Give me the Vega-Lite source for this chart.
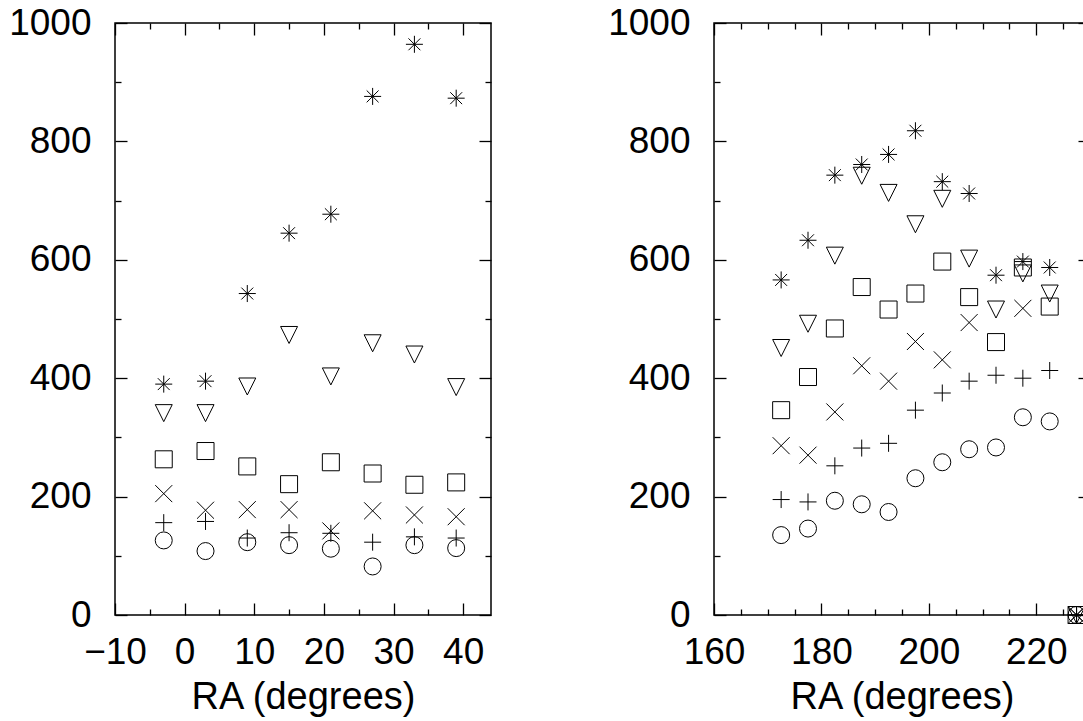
{
  "$schema": "https://vega.github.io/schema/vega-lite/v6.json",
  "padding": {"left": 7, "top": 3, "right": 0, "bottom": 0},
  "background": "white",
  "config": {
    "view": {"stroke": "black", "strokeWidth": 1.5},
    "axis": {
      "labelFont": "Liberation Sans", "labelFontSize": 37, "labelColor": "black",
      "titleFont": "Liberation Sans", "titleFontSize": 38, "titleFontWeight": "normal", "titleColor": "black",
      "domain": false, "grid": false, "tickColor": "black", "tickWidth": 1.3,
      "labelOverlap": false, "labelBound": false, "labelFlush": false, "format": "d"
    }
  },
  "datasets": {
    "left": [
      {"s": "star", "ra": -3, "n": 390}, {"s": "star", "ra": 3, "n": 395}, {"s": "star", "ra": 9, "n": 543}, {"s": "star", "ra": 15, "n": 645},
      {"s": "star", "ra": 21, "n": 677}, {"s": "star", "ra": 27, "n": 876}, {"s": "star", "ra": 33, "n": 964}, {"s": "star", "ra": 39, "n": 873},
      {"s": "tri", "ra": -3, "n": 341}, {"s": "tri", "ra": 3, "n": 341}, {"s": "tri", "ra": 9, "n": 386}, {"s": "tri", "ra": 15, "n": 473},
      {"s": "tri", "ra": 21, "n": 403}, {"s": "tri", "ra": 27, "n": 459}, {"s": "tri", "ra": 33, "n": 440}, {"s": "tri", "ra": 39, "n": 385},
      {"s": "square", "ra": -3, "n": 263}, {"s": "square", "ra": 3, "n": 277}, {"s": "square", "ra": 9, "n": 251}, {"s": "square", "ra": 15, "n": 221},
      {"s": "square", "ra": 21, "n": 258}, {"s": "square", "ra": 27, "n": 239}, {"s": "square", "ra": 33, "n": 220}, {"s": "square", "ra": 39, "n": 224},
      {"s": "cross", "ra": -3, "n": 205}, {"s": "cross", "ra": 3, "n": 177}, {"s": "cross", "ra": 9, "n": 178}, {"s": "cross", "ra": 15, "n": 178},
      {"s": "cross", "ra": 21, "n": 142}, {"s": "cross", "ra": 27, "n": 176}, {"s": "cross", "ra": 33, "n": 169}, {"s": "cross", "ra": 39, "n": 166},
      {"s": "plus", "ra": -3, "n": 156}, {"s": "plus", "ra": 3, "n": 158}, {"s": "plus", "ra": 9, "n": 130}, {"s": "plus", "ra": 15, "n": 139},
      {"s": "plus", "ra": 21, "n": 138}, {"s": "plus", "ra": 27, "n": 123}, {"s": "plus", "ra": 33, "n": 132}, {"s": "plus", "ra": 39, "n": 130},
      {"s": "circle", "ra": -3, "n": 126}, {"s": "circle", "ra": 3, "n": 108}, {"s": "circle", "ra": 9, "n": 123}, {"s": "circle", "ra": 15, "n": 118},
      {"s": "circle", "ra": 21, "n": 112}, {"s": "circle", "ra": 27, "n": 82}, {"s": "circle", "ra": 33, "n": 118}, {"s": "circle", "ra": 39, "n": 113}
    ],
    "right": [
      {"s": "star", "ra": 172.5, "n": 566}, {"s": "star", "ra": 177.5, "n": 633}, {"s": "star", "ra": 182.5, "n": 743}, {"s": "star", "ra": 187.5, "n": 761},
      {"s": "star", "ra": 192.5, "n": 778}, {"s": "star", "ra": 197.5, "n": 818}, {"s": "star", "ra": 202.5, "n": 732}, {"s": "star", "ra": 207.5, "n": 712},
      {"s": "star", "ra": 212.5, "n": 574}, {"s": "star", "ra": 217.5, "n": 597}, {"s": "star", "ra": 222.5, "n": 587}, {"s": "star", "ra": 227.5, "n": 0},
      {"s": "tri", "ra": 172.5, "n": 451}, {"s": "tri", "ra": 177.5, "n": 492}, {"s": "tri", "ra": 182.5, "n": 607}, {"s": "tri", "ra": 187.5, "n": 742},
      {"s": "tri", "ra": 192.5, "n": 713}, {"s": "tri", "ra": 197.5, "n": 660}, {"s": "tri", "ra": 202.5, "n": 703}, {"s": "tri", "ra": 207.5, "n": 602},
      {"s": "tri", "ra": 212.5, "n": 516}, {"s": "tri", "ra": 217.5, "n": 577}, {"s": "tri", "ra": 222.5, "n": 543}, {"s": "tri", "ra": 227.5, "n": 0},
      {"s": "square", "ra": 172.5, "n": 346}, {"s": "square", "ra": 177.5, "n": 402}, {"s": "square", "ra": 182.5, "n": 484}, {"s": "square", "ra": 187.5, "n": 554},
      {"s": "square", "ra": 192.5, "n": 516}, {"s": "square", "ra": 197.5, "n": 543}, {"s": "square", "ra": 202.5, "n": 597}, {"s": "square", "ra": 207.5, "n": 537},
      {"s": "square", "ra": 212.5, "n": 461}, {"s": "square", "ra": 217.5, "n": 587}, {"s": "square", "ra": 222.5, "n": 521}, {"s": "square", "ra": 227.5, "n": 0},
      {"s": "cross", "ra": 172.5, "n": 286}, {"s": "cross", "ra": 177.5, "n": 270}, {"s": "cross", "ra": 182.5, "n": 343}, {"s": "cross", "ra": 187.5, "n": 421},
      {"s": "cross", "ra": 192.5, "n": 395}, {"s": "cross", "ra": 197.5, "n": 462}, {"s": "cross", "ra": 202.5, "n": 431}, {"s": "cross", "ra": 207.5, "n": 494},
      {"s": "cross", "ra": 217.5, "n": 518}, {"s": "cross", "ra": 227.5, "n": 0},
      {"s": "plus", "ra": 172.5, "n": 195}, {"s": "plus", "ra": 177.5, "n": 191}, {"s": "plus", "ra": 182.5, "n": 252}, {"s": "plus", "ra": 187.5, "n": 282},
      {"s": "plus", "ra": 192.5, "n": 290}, {"s": "plus", "ra": 197.5, "n": 346}, {"s": "plus", "ra": 202.5, "n": 375}, {"s": "plus", "ra": 207.5, "n": 395},
      {"s": "plus", "ra": 212.5, "n": 405}, {"s": "plus", "ra": 217.5, "n": 400}, {"s": "plus", "ra": 222.5, "n": 413}, {"s": "plus", "ra": 227.5, "n": 0},
      {"s": "circle", "ra": 172.5, "n": 135}, {"s": "circle", "ra": 177.5, "n": 146}, {"s": "circle", "ra": 182.5, "n": 193}, {"s": "circle", "ra": 187.5, "n": 187},
      {"s": "circle", "ra": 192.5, "n": 174}, {"s": "circle", "ra": 197.5, "n": 231}, {"s": "circle", "ra": 202.5, "n": 258}, {"s": "circle", "ra": 207.5, "n": 280},
      {"s": "circle", "ra": 212.5, "n": 283}, {"s": "circle", "ra": 217.5, "n": 334}, {"s": "circle", "ra": 222.5, "n": 327}, {"s": "circle", "ra": 227.5, "n": 0}
    ]
  },
  "spacing": 113,
  "hconcat": [
    {
      "width": 376, "height": 592,
      "data": {"name": "left"},
      "layer": [
        {
          "mark": {"type": "point", "filled": false, "stroke": "black", "strokeWidth": 1, "opacity": 1},
          "encoding": {
            "x": {"field": "ra", "type": "quantitative", "scale": {"domain": [-10, 44], "nice": false, "zero": false},
                  "axis": {"orient": "bottom", "title": "RA (degrees)", "values": [-10, -5, 0, 5, 10, 15, 20, 25, 30, 35, 40],
                           "labelExpr": "datum.value % 10 === 0 ? datum.label : ''",
                           "tickSize": {"expr": "datum.value % 10 === 0 ? -12 : -6"}, "labelPadding": 31, "titlePadding": 2}},
            "y": {"field": "n", "type": "quantitative", "scale": {"domain": [0, 1000], "nice": false},
                  "axis": {"orient": "left", "title": null, "values": [0, 100, 200, 300, 400, 500, 600, 700, 800, 900, 1000],
                           "labelExpr": "datum.value % 200 === 0 ? datum.label : ''",
                           "tickSize": {"expr": "datum.value % 200 === 0 ? -12 : -6"}, "labelPadding": 36}},
            "shape": {"field": "s", "type": "nominal", "legend": null,
                      "scale": {"domain": ["circle", "plus", "cross", "square", "tri", "star"],
                                "range": ["circle", "M-1,0L1,0M0,-1L0,1", "M-1,-1L1,1M-1,1L1,-1", "square", "M-1,-1L1,-1L0,1Z", "M-1,0L1,0M0,-1L0,1M-0.7,-0.7L0.7,0.7M-0.7,0.7L0.7,-0.7"]}},
            "size": {"field": "s", "type": "nominal", "legend": null,
                     "scale": {"domain": ["circle", "plus", "cross", "square", "tri", "star"], "range": [289, 289, 169, 225, 289, 324]}}
          }
        },
        {
          "mark": {"type": "point", "opacity": 0},
          "encoding": {
            "x": {"field": "ra", "type": "quantitative",
                  "axis": {"orient": "top", "title": null, "labels": false, "values": [-10, -5, 0, 5, 10, 15, 20, 25, 30, 35, 40],
                           "tickSize": {"expr": "datum.value % 10 === 0 ? -12 : -6"}}},
            "y": {"field": "n", "type": "quantitative",
                  "axis": {"orient": "right", "title": null, "labels": false, "values": [0, 100, 200, 300, 400, 500, 600, 700, 800, 900, 1000],
                           "tickSize": {"expr": "datum.value % 200 === 0 ? -12 : -6"}}}
          }
        }
      ],
      "resolve": {"axis": {"x": "independent", "y": "independent"}}
    },
    {
      "width": 376, "height": 592,
      "data": {"name": "right"},
      "layer": [
        {
          "mark": {"type": "point", "filled": false, "stroke": "black", "strokeWidth": 1, "opacity": 1},
          "encoding": {
            "x": {"field": "ra", "type": "quantitative", "scale": {"domain": [160, 230], "nice": false, "zero": false},
                  "axis": {"orient": "bottom", "title": "RA (degrees)", "values": [160, 165, 170, 175, 180, 185, 190, 195, 200, 205, 210, 215, 220, 225, 230],
                           "labelExpr": "datum.value % 20 === 0 ? datum.label : ''",
                           "tickSize": {"expr": "datum.value % 20 === 0 ? -12 : -6"}, "labelPadding": 31, "titlePadding": 2}},
            "y": {"field": "n", "type": "quantitative", "scale": {"domain": [0, 1000], "nice": false},
                  "axis": {"orient": "left", "title": null, "values": [0, 100, 200, 300, 400, 500, 600, 700, 800, 900, 1000],
                           "labelExpr": "datum.value % 200 === 0 ? datum.label : ''",
                           "tickSize": {"expr": "datum.value % 200 === 0 ? -12 : -6"}, "labelPadding": 36}},
            "shape": {"field": "s", "type": "nominal", "legend": null,
                      "scale": {"domain": ["circle", "plus", "cross", "square", "tri", "star"],
                                "range": ["circle", "M-1,0L1,0M0,-1L0,1", "M-1,-1L1,1M-1,1L1,-1", "square", "M-1,-1L1,-1L0,1Z", "M-1,0L1,0M0,-1L0,1M-0.7,-0.7L0.7,0.7M-0.7,0.7L0.7,-0.7"]}},
            "size": {"field": "s", "type": "nominal", "legend": null,
                     "scale": {"domain": ["circle", "plus", "cross", "square", "tri", "star"], "range": [289, 289, 169, 225, 289, 324]}}
          }
        },
        {
          "mark": {"type": "point", "opacity": 0},
          "encoding": {
            "x": {"field": "ra", "type": "quantitative",
                  "axis": {"orient": "top", "title": null, "labels": false, "values": [160, 165, 170, 175, 180, 185, 190, 195, 200, 205, 210, 215, 220, 225, 230],
                           "tickSize": {"expr": "datum.value % 20 === 0 ? -12 : -6"}}},
            "y": {"field": "n", "type": "quantitative",
                  "axis": {"orient": "right", "title": null, "labels": false, "values": [0, 100, 200, 300, 400, 500, 600, 700, 800, 900, 1000],
                           "tickSize": {"expr": "datum.value % 200 === 0 ? -12 : -6"}}}
          }
        }
      ],
      "resolve": {"axis": {"x": "independent", "y": "independent"}}
    }
  ]
}
